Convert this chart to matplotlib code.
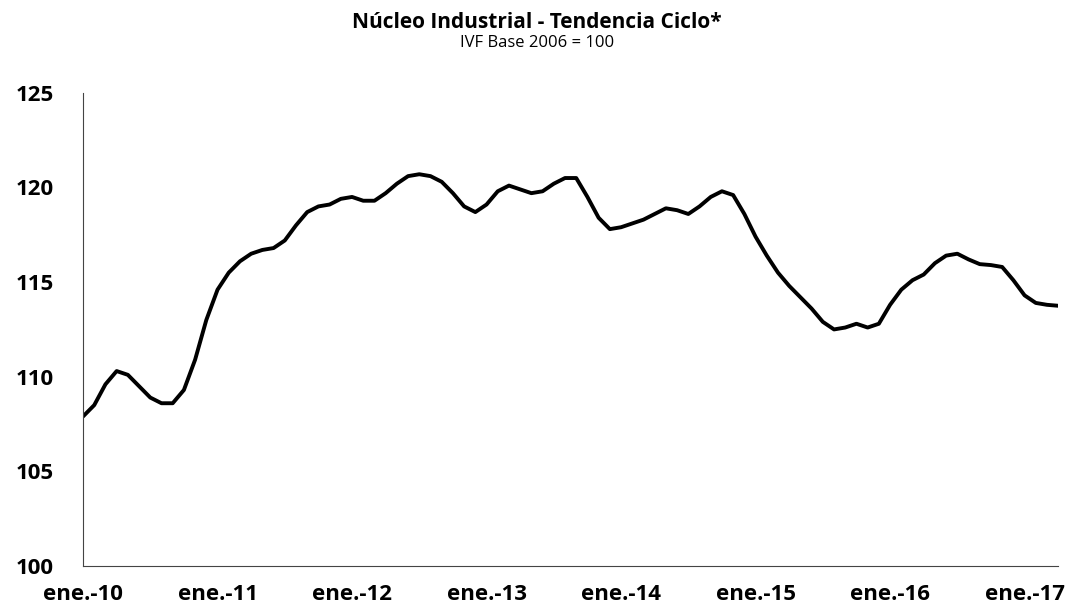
import numpy as np
import matplotlib
matplotlib.use("Agg")
import matplotlib.pyplot as plt

# Núcleo industrial, tendencia-ciclo mensual (IVF base 2006 = 100), ene-2010 a abr-2017
valores = [
    107.9, 108.5, 109.6, 110.3, 110.1, 109.5, 108.9, 108.6, 108.6, 109.3, 110.9, 113.0,
    114.6, 115.5, 116.1, 116.5, 116.7, 116.8, 117.2, 118.0, 118.7, 119.0, 119.1, 119.4,
    119.5, 119.3, 119.3, 119.7, 120.2, 120.6, 120.7, 120.6, 120.3, 119.7, 119.0, 118.7,
    119.1, 119.8, 120.1, 119.9, 119.7, 119.8, 120.2, 120.5, 120.5, 119.5, 118.4, 117.8,
    117.9, 118.1, 118.3, 118.6, 118.9, 118.8, 118.6, 119.0, 119.5, 119.8, 119.6, 118.6,
    117.4, 116.4, 115.5, 114.8, 114.2, 113.6, 112.9, 112.5, 112.6, 112.8, 112.6, 112.8,
    113.8, 114.6, 115.1, 115.4, 116.0, 116.4, 116.5, 116.2, 115.95, 115.9, 115.8, 115.1,
    114.3, 113.9, 113.8, 113.75,
]
etiquetas_x = ["ene.-10", "ene.-11", "ene.-12", "ene.-13",
               "ene.-14", "ene.-15", "ene.-16", "ene.-17"]
ticks_y = [100, 105, 110, 115, 120, 125]

meses = np.arange(len(valores))

plt.rcParams['font.family'] = ['Open Sans', 'DejaVu Sans']

fig = plt.figure(figsize=(10.74, 6.15), dpi=100)
ax = fig.add_axes([0.0773, 0.0797, 0.908, 0.7693])

ax.plot(meses, valores, color='black', lw=2.8, solid_joinstyle='round',
        solid_capstyle='round')

ax.set_xlim(0, len(valores) - 1)
ax.set_ylim(100, 125)
ax.set_yticks(ticks_y)
ax.set_yticklabels([str(t) for t in ticks_y])
ax.set_xticks(np.arange(len(etiquetas_x)) * 12)
ax.set_xticklabels(etiquetas_x)

for lab in ax.get_xticklabels() + ax.get_yticklabels():
    lab.set_fontweight('bold')
    lab.set_fontsize(16)
ax.tick_params(axis='y', length=0, pad=21)
ax.tick_params(axis='x', length=0, pad=13)

for s in ['top', 'right']:
    ax.spines[s].set_visible(False)
for s in ['left', 'bottom']:
    ax.spines[s].set_color('#444444')
    ax.spines[s].set_linewidth(0.8)

fig.text(0.5, 0.963, "Núcleo Industrial - Tendencia Ciclo*", ha='center', va='center',
         fontsize=15, fontweight='bold')
fig.text(0.5, 0.93, "IVF Base 2006 = 100", ha='center', va='center', fontsize=12)

fig.savefig("out.png", dpi=100, facecolor='white')
